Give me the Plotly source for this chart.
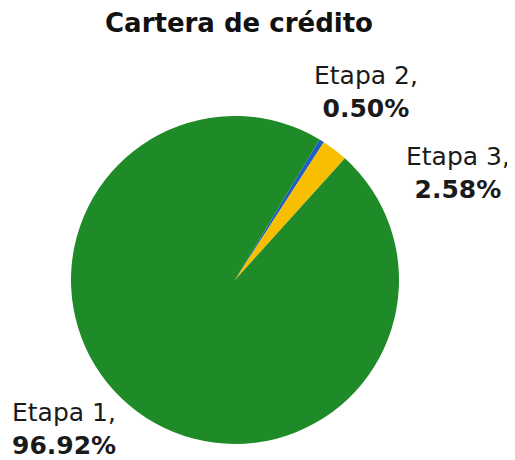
import plotly.graph_objects as go

# Data (clockwise order starting at the thin blue slice)
labels = ["Etapa 2", "Etapa 3", "Etapa 1"]
values = [0.50, 2.58, 96.92]
colors = ["#1f5fc4", "#f7bf00", "#1e8a28"]

# the page body has an 8px margin, so the figure is drawn 8px in
OFF = 8
W, H = 515 - OFF, 460 - OFF
FONT = "DejaVu Sans"

# pie placement in reference pixels
cx, cy, r = 235 - OFF, 280 - OFF, 164

fig = go.Figure()
fig.add_trace(go.Pie(
    labels=labels,
    values=values,
    marker=dict(colors=colors, line=dict(width=0)),
    sort=False,
    direction="clockwise",
    rotation=31,
    textinfo="none",
    hoverinfo="label+percent",
    showlegend=False,
    domain=dict(x=[(cx - r) / W, (cx + r) / W],
                y=[1 - (cy + r) / H, 1 - (cy - r) / H]),
))

# label positions: (x px, y px, xanchor)
label_pos = {
    "Etapa 2": (366, 92, "center"),
    "Etapa 3": (458, 173, "center"),
    "Etapa 1": (10, 429, "left"),
}

for lab, val in zip(labels, values):
    x, y, anchor = label_pos[lab]
    fig.add_annotation(
        x=(x - OFF) / W, y=1 - (y - OFF) / H, xref="paper", yref="paper",
        xanchor=anchor, yanchor="middle",
        align="left" if anchor == "left" else "center",
        text=f"{lab},<br><b>{val:.2f}%</b>",
        showarrow=False,
        font=dict(family=FONT, size=25, color="#1a1a1a"),
    )

fig.update_layout(
    width=W, height=H,
    margin=dict(l=0, r=0, t=0, b=0),
    paper_bgcolor="white",
    plot_bgcolor="white",
    title=dict(
        text="<b>Cartera de crédito</b>",
        x=(239 - OFF) / W, y=1 - (23 - OFF) / H,
        xanchor="center", yanchor="middle",
        font=dict(family=FONT, size=26, color="#111111"),
    ),
)

fig.write_html("out.html")
